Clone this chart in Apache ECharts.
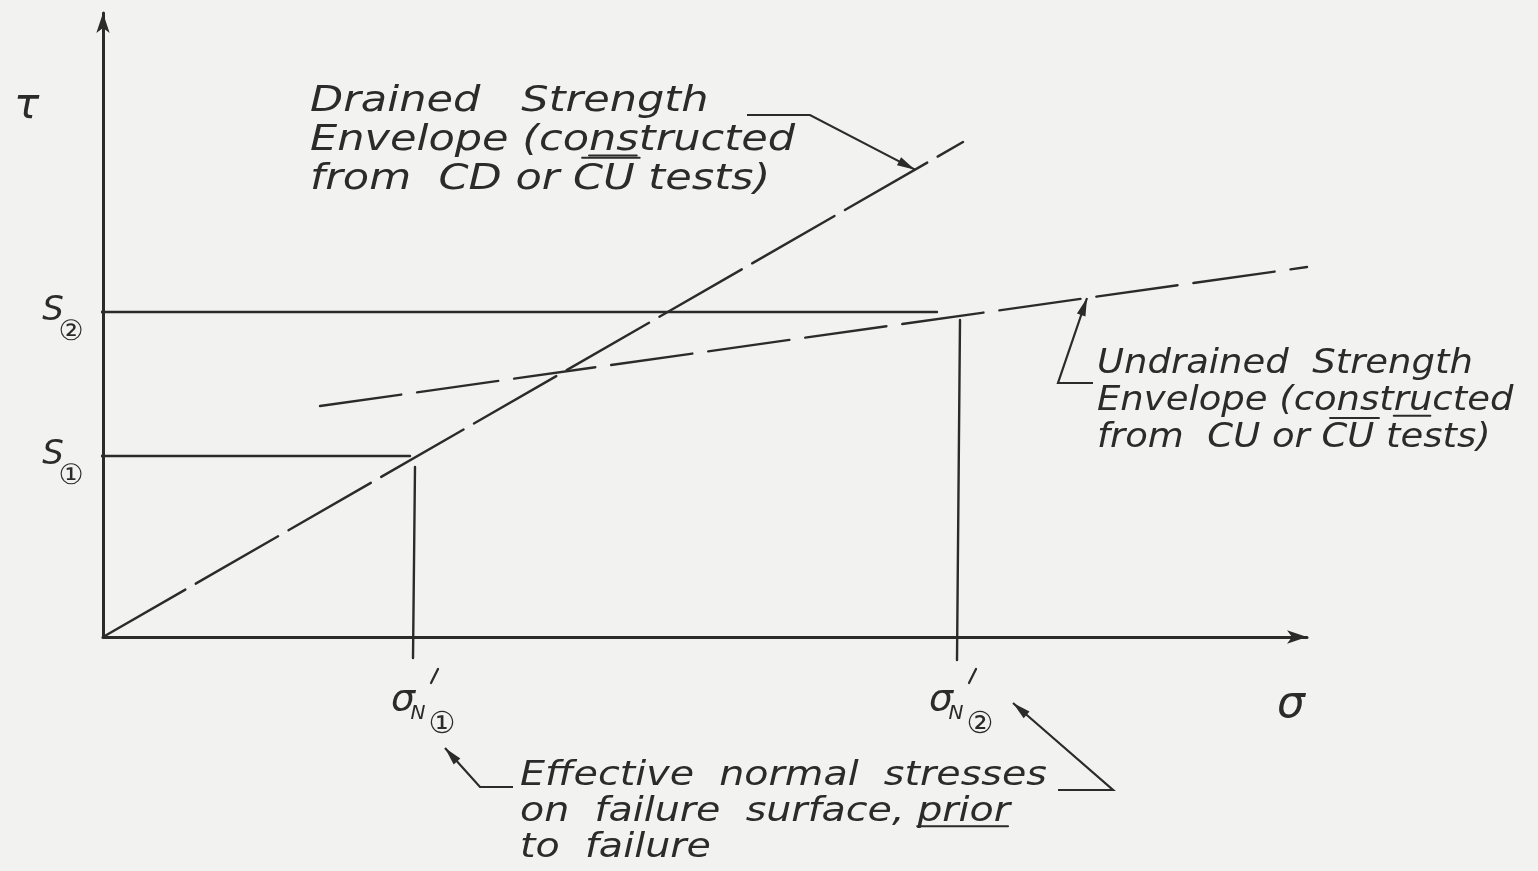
<!DOCTYPE html>
<html><head><meta charset="utf-8">
<script src="https://cdn.jsdelivr.net/npm/echarts@6/dist/echarts.min.js"></script>
<style>html,body{margin:0;padding:0;background:#f2f2f0;overflow:hidden}#c{width:1538px;height:871px}</style>
</head><body><div id="c"></div>
<script>
// ---- values (sigma, tau in drawing units) ----
const drainedSigma = [0, 86.0];
const drainedTau = [0, 49.5];
const undrainedSigma = [21.7, 120.4];
const undrainedTau = [23.1, 37.0];
const strengthTicks = ['\u2460', '\u2461'];      // S①, S②
const strengthValues = [18.1, 32.5];
const normalStressTicks = ['\u2460', '\u2461'];  // σ'N①, σ'N②
const normalStressValues = [31.2, 85.7];
const drainedText = ['Drained   Strength', 'Envelope (constructed', 'from  CD or CU tests)'];
const undrainedText = ['Undrained  Strength', 'Envelope (constructed', 'from  CU or CU tests)'];
const noteText = ['Effective  normal  stresses', 'on  failure  surface, prior', 'to  failure'];

const INK = '#2b2b2b';
const FONT = '"DejaVu Sans", sans-serif';
const chart = echarts.init(document.getElementById('c'));

function envTau(sig, sx, ty) { return ty[0] + (ty[1] - ty[0]) * (sig - sx[0]) / (sx[1] - sx[0]); }
function seg(name, pts, type, w) {
  return { type: 'line', name, data: pts, symbol: 'none', showSymbol: false, clip: false, silent: true,
    lineStyle: { color: INK, width: w || 2.4, type: type || 'solid', cap: 'round' } };
}
const axisCommon = {
  type: 'value', axisTick: { show: false }, axisLabel: { show: false }, splitLine: { show: false },
  axisLine: { show: true, onZero: true, symbol: ['none', 'arrow'], symbolSize: [10, 20], lineStyle: { color: INK, width: 3 } }
};
chart.setOption({
  backgroundColor: '#f2f2f0',
  animation: false,
  grid: { left: 103, right: 231, top: 13, bottom: 234 },
  xAxis: Object.assign({}, axisCommon, { min: 0, max: 120.4 }),
  yAxis: Object.assign({}, axisCommon, { min: 0, max: 62.4 }),
  series: [
    seg('drained', drainedSigma.map((s, i) => [s, drainedTau[i]]), [95, 12]),
    seg('undrained', undrainedSigma.map((s, i) => [s, undrainedTau[i]]), [82, 16]),
    seg('S1', [[-1.8, strengthValues[0]], [normalStressValues[0] - 0.5, strengthValues[0]]]),
    seg('S2', [[-2.5, strengthValues[1]], [normalStressValues[1] - 2.3, strengthValues[1]]]),
    seg('N1', [[normalStressValues[0], strengthValues[0] - 1.1], [normalStressValues[0] - 0.2, -2.1]]),
    seg('N2', [[normalStressValues[1], strengthValues[1] - 0.8], [normalStressValues[1] - 0.3, -2.3]])
  ]
});

const P = (pt) => chart.convertToPixel({ gridIndex: 0 }, pt);
function line(a, b, w) {
  return { type: 'line', shape: { x1: a[0], y1: a[1], x2: b[0], y2: b[1] }, style: { stroke: INK, lineWidth: w || 2.2, lineCap: 'round' }, silent: true };
}
function arrow(points) {
  const p = points.map(P);
  const tip = p[p.length - 1], prev = p[p.length - 2];
  const dx = tip[0] - prev[0], dy = tip[1] - prev[1], L = Math.hypot(dx, dy);
  const ux = dx / L, uy = dy / L, len = 18, hw = 4.5;
  const b = [tip[0] - ux * len, tip[1] - uy * len];
  return [
    { type: 'polyline', shape: { points: p }, style: { stroke: INK, lineWidth: 2.2, fill: null }, silent: true },
    { type: 'polygon', shape: { points: [tip, [b[0] - uy * hw, b[1] + ux * hw], [b[0] + uy * hw, b[1] - ux * hw]] }, style: { fill: INK }, silent: true }
  ];
}
function txt(text, x, y, size, opt) {
  opt = opt || {};
  return { type: 'text', x, y, scaleX: opt.sx || 1, silent: true,
    style: { text: Array.isArray(text) ? text.join('\n') : text, fill: INK, fontFamily: FONT, fontStyle: 'italic',
      fontSize: size, lineHeight: opt.lh || size * 1.1, align: opt.align || 'left', verticalAlign: opt.va || 'top' } };
}
const mctx = document.createElement('canvas').getContext('2d');
// block of text with under/over-line marks: marks = [[lineIdx, start, end, 'over'|'under']]
function block(lines, x, y, size, lh, sx, marks) {
  const out = [txt(lines, x, y, size, { lh, sx })];
  mctx.font = 'italic ' + size + 'px ' + FONT;
  (marks || []).forEach(([li, s, e, kind]) => {
    const t = lines[li];
    const x0 = x + mctx.measureText(t.slice(0, s)).width * sx;
    const x1 = x + mctx.measureText(t.slice(0, e)).width * sx;
    const base = y + li * lh + lh / 2 + 0.3 * size;
    if (kind === 'over') {
      const yy = base - 0.92 * size, sh = 0.2 * size;
      out.push(line([x0 + sh + 2, yy], [x1 + sh - 2, yy], 2));
    } else {
      const yy = base + 0.13 * size;
      out.push(line([x0, yy], [x1 - 2, yy], 2));
    }
  });
  return out;
}
const g = [];
// arrows
g.push(...arrow([[64.4, 52.2], [70.7, 52.2], [81.2, envTau(81.2, drainedSigma, drainedTau)]]));
g.push(...arrow([[99.0, 25.4], [95.5, 25.4], [98.4, envTau(98.4, undrainedSigma, undrainedTau)]]));
g.push(...arrow([[41.0, -15.0], [37.7, -15.0], [34.2, -11.1]]));
g.push(...arrow([[95.5, -15.3], [101.0, -15.3], [91.0, -6.6]]));
// axis symbols
g.push(txt('\u03C4', 14, 84, 42));
const sig = P([120.4, 0]);
g.push(txt('\u03C3', sig[0] - 30, sig[1] + 44, 44));
// S labels
strengthValues.forEach((v, i) => {
  const p = P([0, v]);
  g.push(txt('S', 53, p[1] - 1, 34, { align: 'center', va: 'middle' }));
  g.push(txt(strengthTicks[i], 71, p[1] + 21, 28, { align: 'center', va: 'middle' }));
});
// sigma'N labels
normalStressValues.forEach((v, i) => {
  const p = P([v, 0]);
  const cx = p[0] + (i === 0 ? -12 : -19), cy = p[1] + 63;
  g.push(txt('\u03C3', cx, cy, 38, { align: 'center', va: 'middle' }));
  g.push(line([cx + 28, cy - 17], [cx + 35, cy - 31], 2.2));
  g.push(txt('N', cx + 15, cy + 14, 20, { align: 'center', va: 'middle' }));
  g.push(txt(normalStressTicks[i], cx + 39, cy + 25, 30, { align: 'center', va: 'middle' }));
});
// annotation blocks
g.push(...block(drainedText, 310, 82, 35, 39, 1.23, [[1, 12, 14, 'under'], [2, 12, 14, 'over']]));
g.push(...block(undrainedText, 1097, 346, 33, 37, 1.12, [[1, 15, 17, 'under'], [2, 12, 14, 'over']]));
g.push(...block(noteText, 520, 758, 33, 36, 1.2, [[1, 22, 27, 'under']]));
chart.setOption({ graphic: g });
</script>
</body></html>
